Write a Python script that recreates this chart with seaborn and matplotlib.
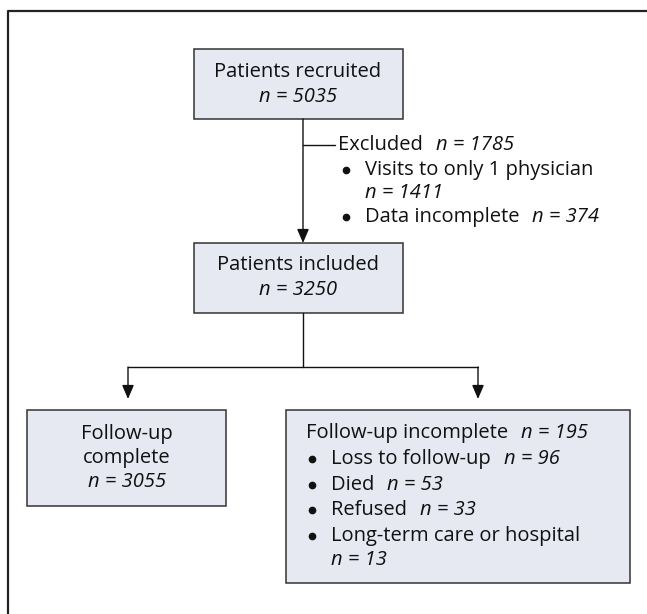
import matplotlib
matplotlib.use("Agg")
import matplotlib.pyplot as plt
from matplotlib.patches import Rectangle
import seaborn as sns

# Flowchart numbers
recruited = 5035
excluded = 1785
exclusion_reasons = ["Visits to only 1 physician", "Data incomplete"]
exclusion_counts = [1411, 374]
exclusion_wrap = [True, False]
included = 3250
complete = 3055
incomplete = 195
incomplete_reasons = ["Loss to follow-up", "Died", "Refused", "Long-term care or hospital"]
incomplete_counts = [96, 53, 33, 13]
incomplete_wrap = [False, False, False, True]

sns.set_theme(style="white")
plt.rcParams['font.family'] = ['Open Sans', 'DejaVu Sans']

FS = 14.5
BOX_FC = '#e6e8f2'
EDGE = '#333333'
GAP = 13  # space between label and italic count
TXT = '#111111'

fig = plt.figure(figsize=(6.47, 6.14), dpi=100)
ax = fig.add_axes([0, 0, 1, 1])
ax.set_xlim(0, 647)
ax.set_ylim(614, 0)
ax.axis('off')
fig.canvas.draw()
renderer = fig.canvas.get_renderer()


def width_of(t):
    return t.get_window_extent(renderer).width


def runs(x, y, parts, ha='left'):
    # parts: list of (text, italic); drawn one after another on one line
    objs = []
    for txt, it in parts:
        objs.append(ax.text(0, y, txt, fontsize=FS, va='center', ha='left',
                            style='italic' if it else 'normal', color=TXT))
    widths = [width_of(o) for o in objs]
    total = sum(widths) + GAP * (len(objs) - 1)
    cx = x - total / 2 if ha == 'center' else x
    for o, w in zip(objs, widths):
        o.set_x(cx)
        cx += w + GAP


def bullet(x, y):
    ax.plot([x], [y], marker='o', ms=4.5, color=TXT)


def box(x0, y0, x1, y1):
    ax.add_patch(Rectangle((x0, y0), x1 - x0, y1 - y0, facecolor=BOX_FC,
                           edgecolor=EDGE, lw=1.1, zorder=2))


def arrow(x, y0, y1):
    ax.annotate('', xy=(x, y1), xytext=(x, y0),
                arrowprops=dict(arrowstyle='-|>,head_length=0.7,head_width=0.3',
                                color='#111111', lw=1.0, shrinkA=0, shrinkB=0))


# outer frame (left and top only)
ax.plot([8, 8, 647], [614, 11, 11], color='#222222', lw=1.6, solid_capstyle='butt')

# top box
box(194, 49, 403, 119)
runs(298, 72, [("Patients recruited", False)], ha='center')
runs(298, 97, [(f"n = {recruited}", True)], ha='center')

# arrow to included
arrow(303, 119, 243)
ax.plot([303, 335], [145, 145], color='#111111', lw=1.0)
runs(338, 145, [("Excluded", False), (f"n = {excluded}", True)])
yy = 170
for reason, cnt, wrap in zip(exclusion_reasons, exclusion_counts, exclusion_wrap):
    bullet(346, yy)
    if wrap:
        runs(365, yy, [(reason, False)])
        yy += 23
        runs(365, yy, [(f"n = {cnt}", True)])
    else:
        runs(365, yy, [(reason, False), (f"n = {cnt}", True)])
    yy += 24

# included box
box(194, 243, 403, 313)
runs(298, 265, [("Patients included", False)], ha='center')
runs(298, 290, [(f"n = {included}", True)], ha='center')

# split
ax.plot([303, 303], [313, 367], color='#111111', lw=1.0)
ax.plot([128, 478], [367, 367], color='#111111', lw=1.0)
arrow(128, 367, 399)
arrow(478, 367, 399)

# left box
box(27, 410, 226, 506)
runs(127, 434, [("Follow-up", False)], ha='center')
runs(127, 458, [("complete", False)], ha='center')
runs(127, 482, [(f"n = {complete}", True)], ha='center')

# right box
box(286, 410, 630, 583)
runs(306, 433, [("Follow-up incomplete", False), (f"n = {incomplete}", True)])
yy = 459
for reason, cnt, wrap in zip(incomplete_reasons, incomplete_counts, incomplete_wrap):
    bullet(312, yy)
    if wrap:
        runs(331, yy, [(reason, False)])
        yy += 24.5
        runs(331, yy, [(f"n = {cnt}", True)])
    else:
        runs(331, yy, [(reason, False), (f"n = {cnt}", True)])
    yy += 25.5

fig.savefig("out.png", dpi=100)
